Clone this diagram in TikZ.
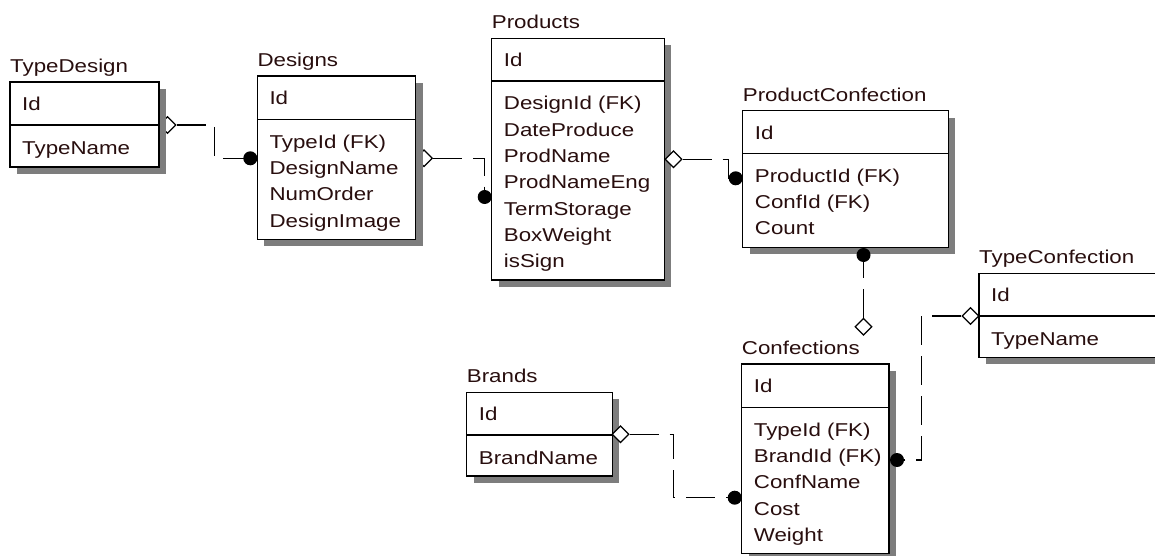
\documentclass[tikz,border=0pt]{standalone}
\usepackage{fontspec}
\setmainfont{Liberation Sans}[FakeStretch=1.2]
\usetikzlibrary{shapes.geometric,shadows,calc}
\pgfdeclarelayer{bg}
\pgfsetlayers{bg,main}
\definecolor{ink}{RGB}{40,14,14}
\definecolor{shade}{RGB}{125,125,125}

\tikzset{
  tbl/.style={draw, line width=1.3pt, fill=white, inner sep=0pt, outer sep=0pt,
    anchor=north west,
    general shadow={fill=shade, shadow xshift=7pt, shadow yshift=-7pt}},
  ttl/.style={anchor=base west, inner sep=0pt, text=ink,
    font=\fontsize{18.6}{22}\selectfont},
  fld/.style={ttl},
  keyend/.style={diamond, draw, fill=white, line width=1.2pt,
    minimum width=17pt, minimum height=17pt, inner sep=0pt},
  fkend/.style={circle, fill=black, minimum size=14pt, inner sep=0pt},
  rel/.style={line width=1.3pt, dash pattern=on 29pt off 11pt},
}

% entity: name, left, top, divider, bottom, right, title, key, fields
\newcommand\erentity[9]{%
  \node[tbl, minimum width={#6pt-#2pt}, minimum height={#5pt-#3pt}] (#1) at (#2,#3) {};
  \draw[line width=1.3pt] (#1.west |- 0,#4) -- (#1.east |- 0,#4);
  \node[ttl] (#1-title) at (#2,#3-9.5) {#7};
  \node[fld] (#1-key) at (#2+12,#3+28.5) {#8};
  \foreach \f [count=\i from 0] in {#9}
    \node[fld] (#1-f\i) at (#2+12,#4+29+\i*26.3) {\f};
}

\begin{document}
\begin{tikzpicture}[x=1pt, y=-1pt]
\useasboundingbox (0,0) rectangle (1155,556);
\begin{pgfonlayer}{bg}
  \fill[white] (0,0) rectangle (1155,556);
  % key ends partly hidden by the table shadows
  \node[keyend] (m1) at (167.5,125) {};
  \node[keyend] (m2) at (424,158.3) {};
\end{pgfonlayer}

\erentity{typedesign}{10}{82}{125}{167}{159}{TypeDesign}{Id}{TypeName}
\erentity{designs}{257.3}{76}{119.3}{239.3}{415.7}{Designs}{Id}{TypeId (FK),DesignName,NumOrder,DesignImage}
\erentity{products}{491.7}{38.3}{81}{280}{664.3}{Products}{Id}{DesignId (FK),DateProduce,ProdName,ProdNameEng,TermStorage,BoxWeight,isSign}
\erentity{prodconf}{742.7}{110.7}{153.3}{247.3}{948.3}{ProductConfection}{Id}{ProductId (FK),ConfId (FK),Count}
\erentity{typeconf}{979}{273.3}{316}{357.3}{1175}{TypeConfection}{Id}{TypeName}
\erentity{confections}{741.7}{364}{407.3}{553.3}{889}{Confections}{Id}{TypeId (FK),BrandId (FK),ConfName,Cost,Weight}
\erentity{brands}{466.7}{392.3}{435}{476}{612.3}{Brands}{Id}{BrandName}

% key ends drawn over the shadows
\node[keyend] (m3) at (673.5,159.3) {};
\node[keyend] (m4) at (863.5,326.7) {};
\node[keyend] (m5) at (620.5,434.3) {};
\node[keyend] (m6) at (970.5,316) {};

% relationships
\draw[rel] (m1.east) -- ++(38,0) coordinate (k1) |- (250.3,158.3) coordinate (e1);
\draw[rel] (m2.east) -| (484.7,197) coordinate (e2);
\draw[rel] (m3.east) -- ++(46,0) coordinate (k3) |- (735.7,178.3) coordinate (e3);
\draw[rel] (m4.north) -- (863.5,255) coordinate (e4);
\draw[rel] (m5.east) -- ++(44,0) coordinate (k5) |- (734.7,497.7) coordinate (e5);
\draw[rel] (m6.west) -- ++(-40,0) coordinate (k6) |- (897,460) coordinate (e6);

% foreign key ends
\node[fkend] (d1) at (e1) {};
\node[fkend] (d2) at (e2) {};
\node[fkend] (d3) at (e3) {};
\node[fkend] (d4) at (e4) {};
\node[fkend] (d5) at (e5) {};
\node[fkend] (d6) at (e6) {};
\end{tikzpicture}
\end{document}
